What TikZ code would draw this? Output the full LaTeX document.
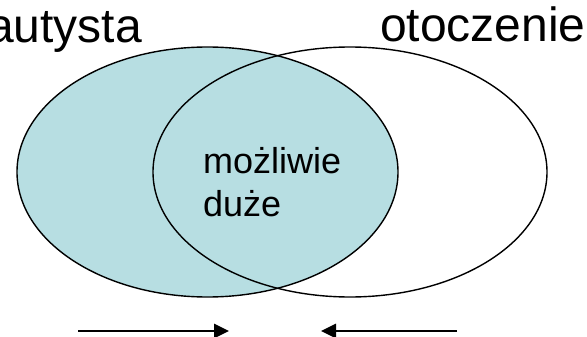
\documentclass[tikz,border=0pt]{standalone}
\usepackage{fontspec}
\setmainfont{Liberation Sans}
\usetikzlibrary{shapes.geometric,arrows.meta}

\definecolor{turkus}{RGB}{183,222,226}

\tikzset{
  zbior/.style={ellipse, draw=black, line width=1.4pt, inner sep=0pt},
  podpis/.style={font=\fontsize{48}{57}\selectfont, inner sep=0pt},
  srodek/.style={font=\fontsize{36}{43}\selectfont, inner sep=0pt, align=left},
  strzalka/.style={line width=2.7pt, -{Triangle[length=15pt,width=14pt]}}
}

\begin{document}
\begin{tikzpicture}[x=1pt,y=-1pt]
\useasboundingbox (0,0) rectangle (587,337);

\node[zbior, fill=turkus, minimum width=381pt, minimum height=250pt] (aut) at (207.5,172) {};
\node[zbior, minimum width=394pt, minimum height=250pt] (oto) at (350,172) {};

\node[podpis, anchor=base east] (autl) at (142,43) {autysta};
\node[podpis, anchor=base west] (otol) at (380,42) {otoczenie};

\node[srodek, anchor=north west] (duze) at (203,147) {możliwie\\duże};

\coordinate (l1) at (78,331);
\coordinate (l2) at (229,331);
\coordinate (r1) at (457,331);
\coordinate (r2) at (321,331);
\draw[strzalka] (l1) -- (l2);
\draw[strzalka] (r1) -- (r2);

\end{tikzpicture}
\end{document}
